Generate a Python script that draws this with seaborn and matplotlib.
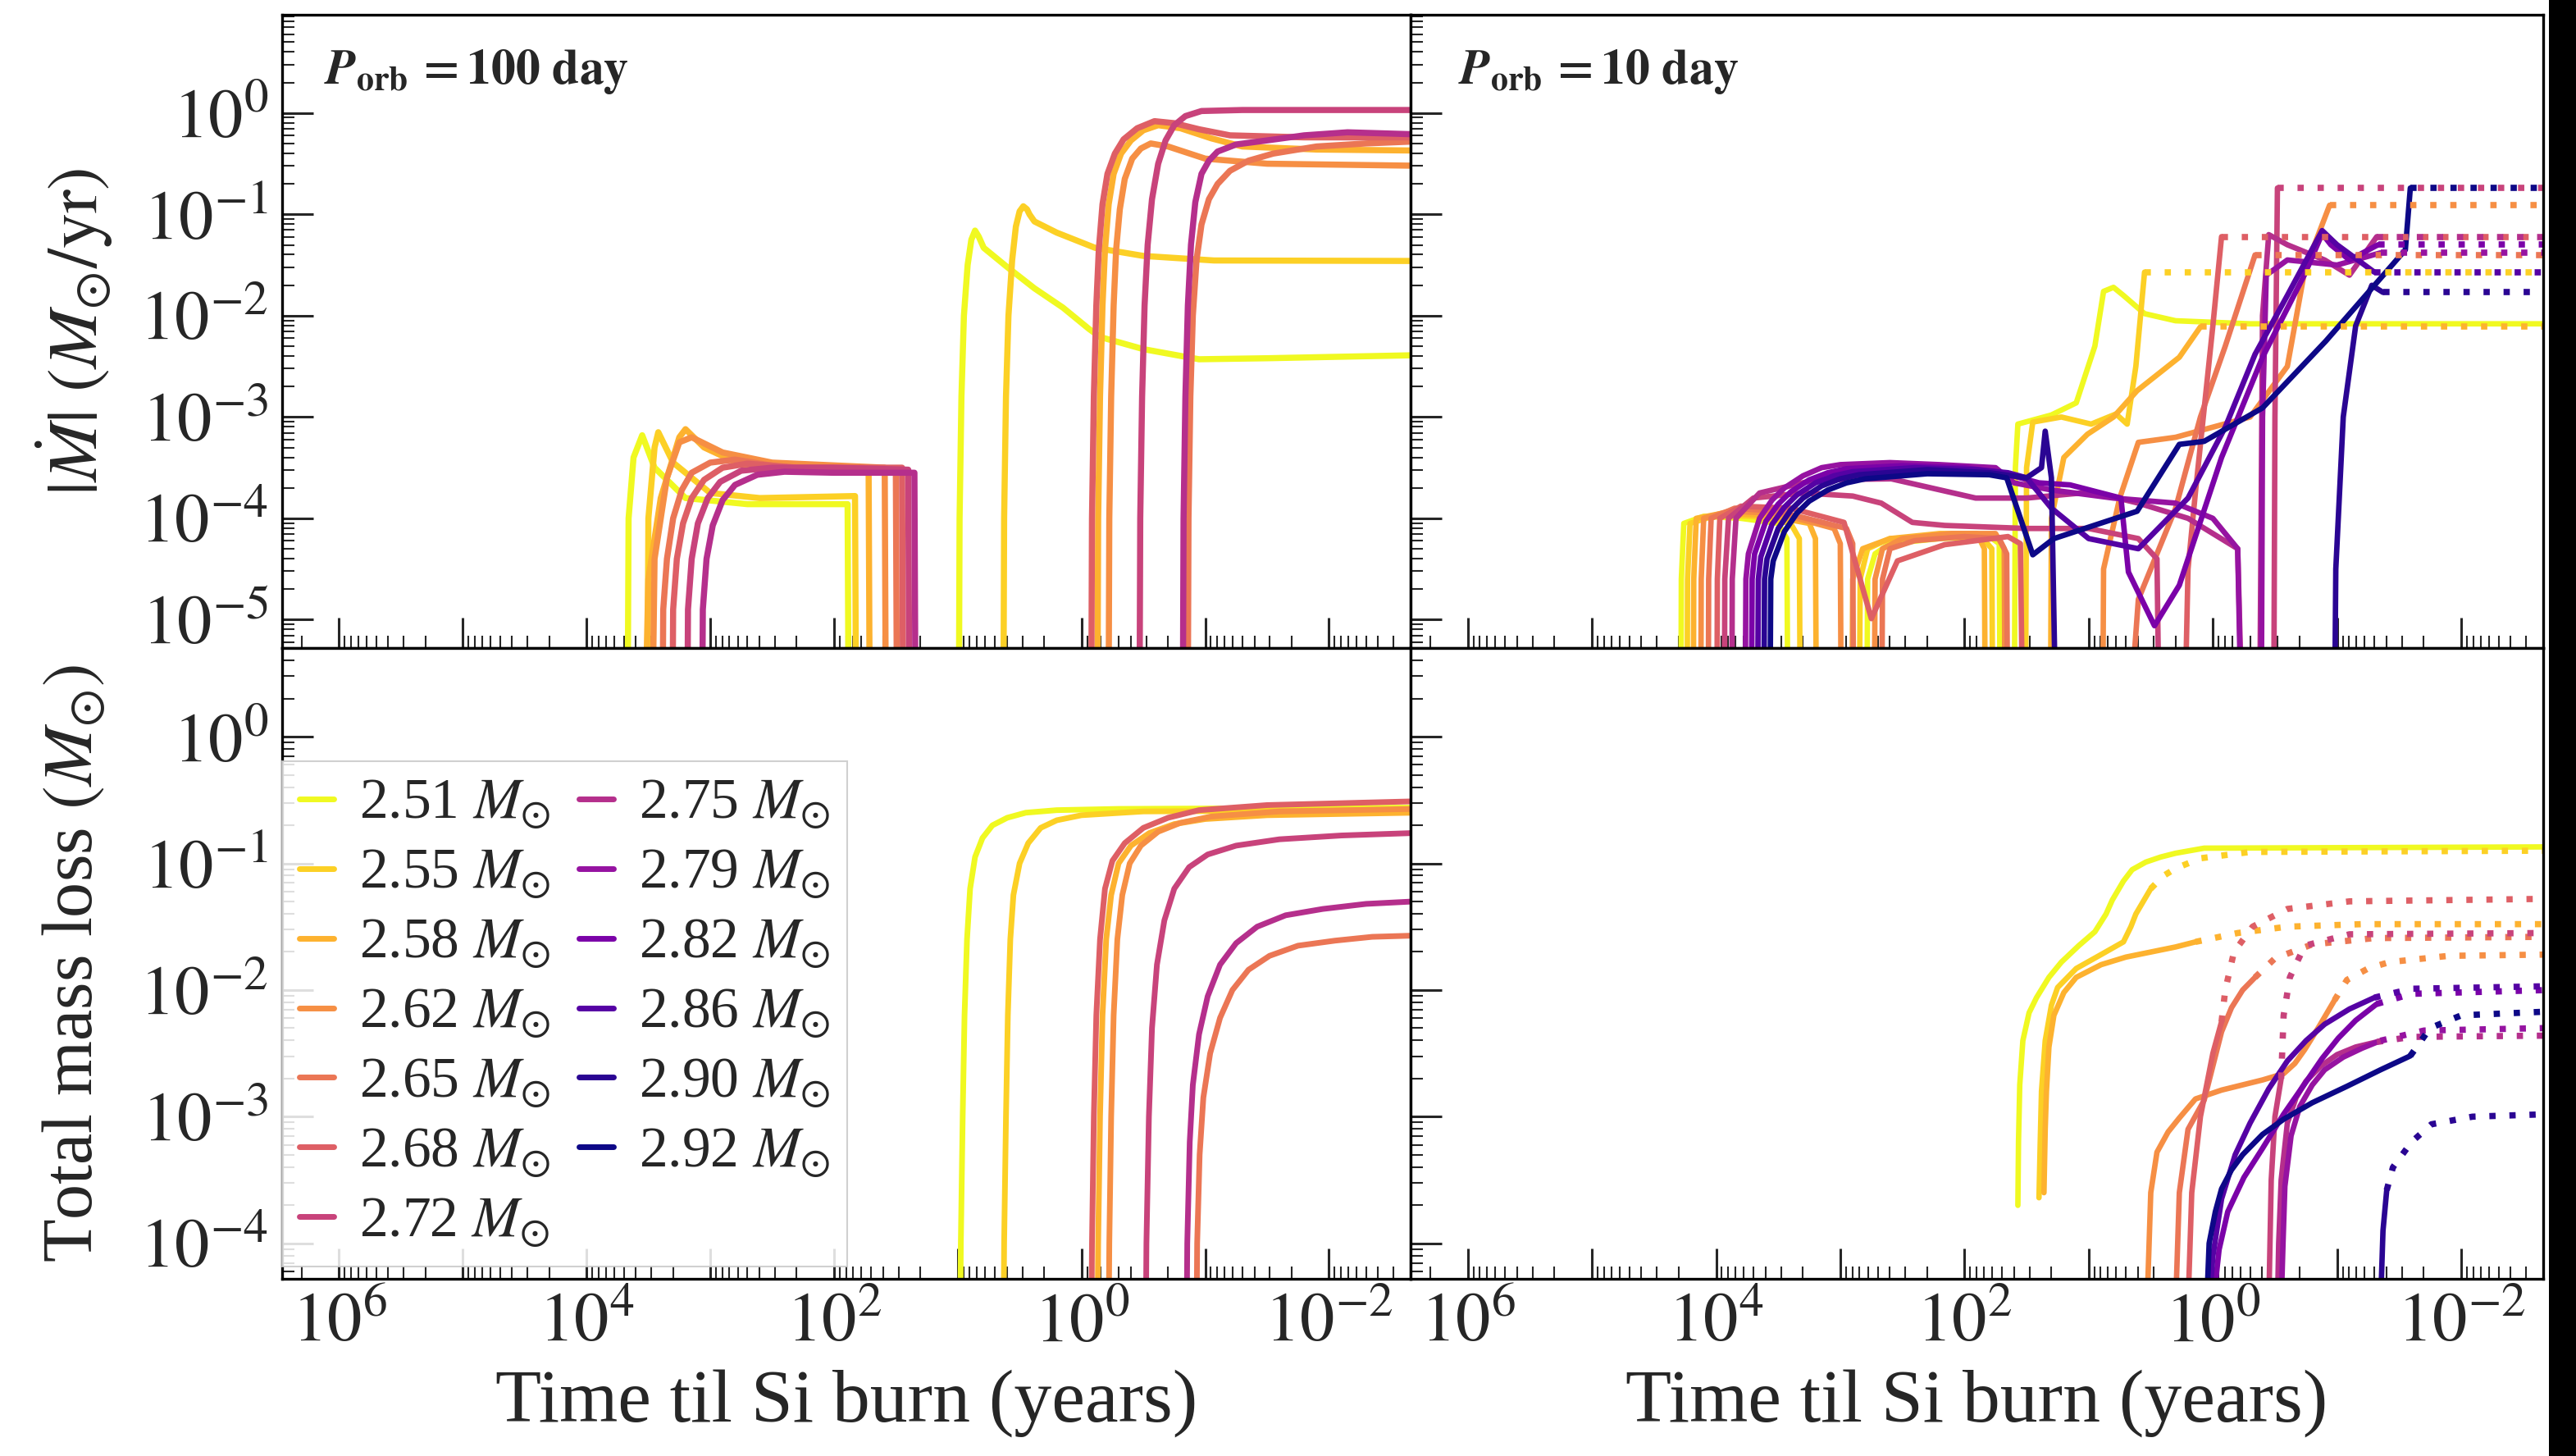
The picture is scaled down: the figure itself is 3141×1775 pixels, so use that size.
import numpy as np
import matplotlib
matplotlib.use("Agg")
import matplotlib.pyplot as plt
import seaborn as sns
from matplotlib.lines import Line2D
from matplotlib.ticker import LogLocator, FuncFormatter, NullFormatter
from matplotlib.patches import Rectangle

# ---------------- data (log10 of time til Si burn [yr], log10 of value) ----------------
masses = [2.51, 2.55, 2.58, 2.62, 2.65, 2.68, 2.72, 2.75, 2.79, 2.82, 2.86, 2.90, 2.92]
mass_labels = ["2.51", "2.55", "2.58", "2.62", "2.65", "2.68", "2.72",
               "2.75", "2.79", "2.82", "2.86", "2.90", "2.92"]

# P_orb = 100 day, |Mdot| (Msun/yr)
p100_mdot_251 = [(3.68,-9),(3.66,-4.0),(3.62,-3.4),(3.55,-3.18),(3.45,-3.5),(3.2,-3.8),(2.7,-3.86),(1.89,-3.86),(1.87,-9),
                 (1.0,-9),(0.985,-4.0),(0.97,-2.8),(0.95,-2.0),(0.92,-1.5),(0.89,-1.25),(0.86,-1.16),(0.83,-1.22),(0.79,-1.33),
                 (0.6,-1.52),(0.38,-1.73),(0.15,-1.92),(-0.06,-2.13),(-0.15,-2.21),(-0.5,-2.33),(-0.95,-2.43),(-1.5,-2.42),(-2.7,-2.39)]
p100_mdot_255 = [(3.52,-9),(3.5,-4.0),(3.45,-3.3),(3.42,-3.15),(3.3,-3.45),(3.0,-3.75),(2.6,-3.8),(1.83,-3.78),(1.81,-9),
                 (0.64,-9),(0.625,-4.0),(0.61,-2.8),(0.59,-2.0),(0.56,-1.45),(0.53,-1.12),(0.5,-0.97),(0.47,-0.92),(0.44,-0.95),
                 (0.42,-1.0),(0.38,-1.07),(0.2,-1.18),(-0.11,-1.33),(-0.5,-1.41),(-1.07,-1.455),(-2.7,-1.46)]
p100_mdot_258 = [(3.58,-9),(3.5,-4.6),(3.4,-3.8),(3.25,-3.2),(3.2,-3.12),(3.05,-3.3),(2.7,-3.5),(1.72,-3.55),(1.70,-9),
                 (-0.12,-9),(-0.135,-4.0),(-0.15,-2.8),(-0.17,-1.9),(-0.19,-1.35),(-0.22,-0.9),(-0.26,-0.6),(-0.32,-0.4),
                 (-0.4,-0.27),(-0.5,-0.17),(-0.62,-0.12),(-0.8,-0.15),(-1.05,-0.25),(-1.3,-0.33),(-1.9,-0.36),(-2.7,-0.37)]
p100_mdot_262 = [(3.50,-9),(3.45,-4.4),(3.35,-3.6),(3.25,-3.25),(3.15,-3.2),(2.9,-3.35),(2.5,-3.45),(1.59,-3.5),(1.57,-9),
                 (-0.21,-9),(-0.225,-4.0),(-0.24,-2.8),(-0.26,-1.9),(-0.28,-1.35),(-0.31,-0.95),(-0.35,-0.65),(-0.41,-0.45),
                 (-0.48,-0.35),(-0.56,-0.3),(-0.7,-0.33),(-1.0,-0.45),(-1.5,-0.5),(-2.7,-0.52)]
p100_mdot_265 = [(3.40,-9),(3.38,-4.9),(3.35,-4.4),(3.3,-4.0),(3.23,-3.72),(3.15,-3.55),(3.0,-3.45),(2.8,-3.42),(2.4,-3.5),
                 (1.50,-3.55),(1.48,-9),
                 (-0.85,-9),(-0.865,-4.0),(-0.88,-2.8),(-0.9,-2.0),(-0.93,-1.45),(-0.97,-1.1),(-1.03,-0.85),(-1.1,-0.7),
                 (-1.2,-0.57),(-1.35,-0.47),(-1.55,-0.4),(-1.9,-0.33),(-2.3,-0.3),(-2.7,-0.28)]
p100_mdot_268 = [(3.32,-9),(3.3,-4.9),(3.27,-4.4),(3.22,-4.05),(3.15,-3.8),(3.05,-3.62),(2.9,-3.5),(2.7,-3.46),(2.3,-3.5),
                 (1.45,-3.5),(1.43,-9),
                 (-0.07,-9),(-0.085,-4.0),(-0.1,-2.8),(-0.12,-1.9),(-0.14,-1.35),(-0.17,-0.9),(-0.21,-0.6),(-0.27,-0.4),
                 (-0.34,-0.26),(-0.45,-0.15),(-0.59,-0.08),(-0.75,-0.1),(-0.95,-0.16),(-1.2,-0.22),(-1.8,-0.24),(-2.7,-0.24)]
p100_mdot_272 = [(3.20,-9),(3.18,-4.9),(3.15,-4.4),(3.1,-4.05),(3.02,-3.8),(2.92,-3.64),(2.75,-3.53),(2.5,-3.5),(2.0,-3.5),
                 (1.40,-3.52),(1.38,-9),
                 (-0.46,-9),(-0.475,-4.0),(-0.49,-2.8),(-0.51,-1.9),(-0.535,-1.3),(-0.57,-0.85),(-0.62,-0.5),(-0.68,-0.27),
                 (-0.75,-0.12),(-0.84,-0.03),(-0.97,0.02),(-1.3,0.03),(-2.7,0.03)]
p100_mdot_275 = [(3.08,-9),(3.06,-4.9),(3.03,-4.4),(2.98,-4.07),(2.9,-3.82),(2.8,-3.67),(2.62,-3.57),(2.4,-3.54),(2.0,-3.55),
                 (1.35,-3.55),(1.33,-9),
                 (-0.81,-9),(-0.825,-4.0),(-0.84,-2.8),(-0.86,-1.9),(-0.885,-1.3),(-0.92,-0.88),(-0.97,-0.6),(-1.03,-0.47),
                 (-1.1,-0.38),(-1.25,-0.31),(-1.5,-0.27),(-1.8,-0.22),(-2.15,-0.19),(-2.7,-0.21)]

# P_orb = 100 day, total mass loss (Msun)
p100_loss_251 = [(0.99,-6),(0.975,-4.0),(0.96,-3.0),(0.945,-2.2),(0.925,-1.6),(0.9,-1.2),(0.86,-0.95),(0.8,-0.8),
                 (0.72,-0.7),(0.6,-0.64),(0.45,-0.6),(0.2,-0.58),(-0.3,-0.57),(-2.7,-0.56)]
p100_loss_255 = [(0.64,-6),(0.625,-4.0),(0.61,-3.0),(0.595,-2.2),(0.575,-1.6),(0.55,-1.25),(0.5,-1.0),(0.43,-0.84),
                 (0.33,-0.72),(0.2,-0.66),(0.0,-0.62),(-0.5,-0.59),(-2.7,-0.58)]
p100_loss_258 = [(-0.12,-6),(-0.135,-4.0),(-0.15,-3.0),(-0.17,-2.2),(-0.2,-1.6),(-0.24,-1.25),(-0.3,-1.0),(-0.4,-0.86),
                 (-0.55,-0.76),(-0.75,-0.69),(-1.0,-0.65),(-1.5,-0.62),(-2.7,-0.60)]
p100_loss_262 = [(-0.21,-6),(-0.225,-4.0),(-0.24,-3.0),(-0.26,-2.2),(-0.29,-1.6),(-0.33,-1.25),(-0.39,-1.0),(-0.48,-0.86),
                 (-0.62,-0.75),(-0.8,-0.68),(-1.05,-0.63),(-1.6,-0.59),(-2.7,-0.57)]
p100_loss_265 = [(-0.92,-6),(-0.935,-4.0),(-0.955,-3.3),(-0.985,-2.85),(-1.04,-2.5),(-1.12,-2.22),(-1.22,-2.0),(-1.35,-1.84),
                 (-1.52,-1.73),(-1.75,-1.65),(-2.05,-1.61),(-2.35,-1.58),(-2.7,-1.57)]
p100_loss_268 = [(-0.07,-6),(-0.085,-4.0),(-0.1,-3.0),(-0.12,-2.2),(-0.15,-1.6),(-0.19,-1.2),(-0.25,-0.98),(-0.35,-0.84),
                 (-0.5,-0.72),(-0.7,-0.64),(-0.95,-0.58),(-1.5,-0.54),(-2.7,-0.51)]
p100_loss_272 = [(-0.51,-6),(-0.525,-4.0),(-0.545,-3.0),(-0.57,-2.3),(-0.61,-1.8),(-0.67,-1.45),(-0.75,-1.2),(-0.87,-1.03),
                 (-1.02,-0.93),(-1.25,-0.86),(-1.6,-0.81),(-2.1,-0.78),(-2.7,-0.76)]
p100_loss_275 = [(-0.84,-6),(-0.855,-4.0),(-0.875,-3.2),(-0.9,-2.75),(-0.95,-2.35),(-1.02,-2.05),(-1.12,-1.8),(-1.25,-1.63),
                 (-1.42,-1.5),(-1.65,-1.41),(-1.95,-1.36),(-2.3,-1.32),(-2.7,-1.30)]

# P_orb = 10 day, |Mdot| (Msun/yr): solid part
p10_mdot_251 = [(4.29,-9),(4.28,-4.6),(4.26,-4.05),(4.1,-3.98),(3.8,-4.0),(3.5,-4.05),(3.43,-4.2),(3.41,-9),
                (2.80,-9),(2.78,-4.6),(2.72,-4.35),(2.6,-4.25),(2.2,-4.2),(1.8,-4.18),(1.72,-4.25),(1.70,-9),
                (1.61,-9),(1.59,-3.5),(1.57,-3.07),(1.3,-2.98),(1.1,-2.86),(0.95,-2.3),(0.88,-1.76),(0.8,-1.72),(0.72,-1.8),
                (0.55,-1.98),(0.3,-2.05),(-0.3,-2.08),(-2.7,-2.08)]
p10_mdot_255 = [(4.24,-9),(4.23,-4.6),(4.21,-4.05),(4.0,-3.97),(3.7,-3.98),(3.4,-4.05),(3.33,-4.2),(3.31,-9),
                (2.86,-9),(2.84,-4.6),(2.78,-4.3),(2.6,-4.2),(2.2,-4.18),(1.85,-4.2),(1.78,-4.3),(1.76,-9),
                (1.52,-9),(1.50,-3.5),(1.45,-3.05),(1.22,-3.0),(0.98,-3.07),(0.78,-2.97),(0.69,-3.07),(0.62,-2.5),(0.55,-1.57)]
p10_mdot_258 = [(4.19,-9),(4.18,-4.6),(4.16,-4.0),(3.95,-3.95),(3.6,-3.97),(3.25,-4.05),(3.2,-4.2),(3.18,-9),
                (2.92,-9),(2.9,-4.6),(2.82,-4.3),(2.6,-4.2),(2.2,-4.15),(1.9,-4.15),(1.84,-4.3),(1.82,-9),
                (1.32,-9),(1.3,-4.0),(1.2,-3.4),(1.01,-3.17),(0.8,-3.0),(0.61,-2.74),(0.27,-2.41),(0.1,-2.11)]
p10_mdot_262 = [(4.13,-9),(4.12,-4.6),(4.1,-4.0),(3.9,-3.93),(3.5,-3.95),(3.05,-4.1),(3.0,-4.25),(2.98,-9),
                (2.74,-9),(2.72,-4.6),(2.66,-4.3),(2.5,-4.2),(2.1,-4.15),(1.75,-4.15),(1.68,-4.3),(1.66,-9),
                (0.9,-9),(0.88,-4.5),(0.75,-3.8),(0.6,-3.25),(0.3,-3.2),(0.0,-3.1),(-0.3,-3.0),(-0.6,-2.5),(-0.74,-1.55),(-0.94,-0.91)]
p10_mdot_265 = [(4.07,-9),(4.06,-4.6),(4.04,-4.0),(3.85,-3.9),(3.5,-3.93),(2.95,-4.1),(2.9,-4.25),(2.88,-9),
                (2.68,-9),(2.66,-4.6),(2.6,-4.3),(2.4,-4.22),(2.0,-4.18),(1.72,-4.2),(1.66,-4.35),(1.64,-9),
                (0.85,-9),(0.6,-4.8),(0.3,-3.9),(0.1,-3.0),(-0.1,-2.3),(-0.34,-1.4)]
p10_mdot_268 = [(4.0,-9),(3.99,-4.6),(3.97,-4.0),(3.8,-3.88),(3.4,-3.9),(2.97,-4.04),(2.75,-4.99),(2.54,-4.42),(2.16,-4.26),
                (1.65,-4.18),(1.55,-4.25),(1.5,-9),
                (0.28,-9),(0.2,-4.5),(0.14,-3.74),(0.0,-2.1),(-0.07,-1.22)]
p10_mdot_272 = [(3.94,-9),(3.93,-4.6),(3.9,-4.0),(3.7,-3.8),(3.3,-3.75),(2.9,-3.78),(2.67,-3.85),(2.42,-4.04),(2.16,-4.07),
                (1.5,-4.1),(1.0,-4.1),(0.6,-4.2),(0.45,-4.4),(0.4,-9),
                (-0.48,-9),(-0.50,-3.0),(-0.52,-0.74)]
p10_mdot_275 = [(3.88,-9),(3.87,-4.6),(3.84,-4.0),(3.65,-3.75),(3.2,-3.62),(2.59,-3.61),(1.91,-3.8),(1.5,-3.8),(0.97,-3.74),
                (0.6,-3.85),(0.2,-4.0),(-0.2,-4.3),(-0.3,-9),
                (-0.36,-9),(-0.4,-2.0),(-0.45,-1.2),(-0.6,-1.3),(-0.9,-1.45),(-1.1,-1.6),(-1.32,-1.22)]
p10_mdot_279 = [(3.78,-9),(3.76,-4.6),(3.74,-4.35),(3.65,-4.0),(3.55,-3.82),(3.45,-3.7),(3.3,-3.58),(3.15,-3.5),(3.0,-3.47),
                (2.6,-3.45),(2.2,-3.47),(1.75,-3.5),(1.6,-3.65),(1.3,-3.72),(0.8,-3.8),(0.3,-3.85),(0.0,-4.0),(-0.2,-4.3),(-0.28,-9),
                (-0.38,-9),(-0.40,-3.0),(-0.43,-1.6),(-0.6,-1.45),(-1.0,-1.5),(-1.35,-1.38)]
p10_mdot_282 = [(3.73,-9),(3.71,-4.6),(3.69,-4.35),(3.6,-4.03),(3.5,-3.86),(3.4,-3.74),(3.25,-3.62),(3.1,-3.55),(2.95,-3.51),
                (2.5,-3.48),(2.0,-3.5),(1.7,-3.55),
                (1.4,-3.65),(1.15,-3.67),(0.74,-3.8),(0.68,-4.53),(0.47,-5.06),(0.27,-4.66),(-0.07,-3.4),(-0.4,-2.41),
                (-0.74,-1.59),(-0.88,-1.19),(-0.95,-1.3),(-1.1,-1.45),(-1.33,-1.3)]
p10_mdot_286 = [(3.68,-9),(3.66,-4.6),(3.64,-4.38),(3.55,-4.06),(3.45,-3.89),(3.35,-3.77),(3.2,-3.65),(3.05,-3.58),(2.9,-3.54),
                (2.4,-3.5),(1.9,-3.52),(1.65,-3.55),
                (1.5,-3.6),(1.3,-3.9),(1.0,-4.2),(0.6,-4.3),(0.2,-3.8),(-0.1,-3.1),(-0.34,-2.38),(-0.6,-1.8),(-0.88,-1.16),
                (-1.0,-1.3),(-1.3,-1.57)]
p10_mdot_290 = [(3.63,-9),(3.61,-4.6),(3.59,-4.4),(3.5,-4.1),(3.4,-3.92),(3.3,-3.8),(3.15,-3.68),(3.0,-3.61),(2.85,-3.57),
                (2.3,-3.52),(1.8,-3.55),(1.5,-3.6),
                (1.38,-3.5),(1.35,-3.14),(1.3,-3.6),(1.22,-9),
                (-0.96,-9),(-0.99,-4.5),(-1.05,-3.0),(-1.15,-2.1),(-1.28,-1.7),(-1.37,-1.77)]
p10_mdot_292 = [(3.58,-9),(3.56,-4.6),(3.54,-4.42),(3.45,-4.13),(3.35,-3.95),(3.25,-3.83),(3.1,-3.72),(2.95,-3.65),(2.8,-3.61),
                (2.3,-3.56),(1.8,-3.57),(1.66,-3.6),
                (1.45,-4.36),(1.28,-4.2),(0.61,-3.93),(0.27,-3.27),(0.07,-3.24),(-0.4,-2.91),(-0.91,-2.25),(-1.55,-1.35),(-1.59,-0.74)]
# dotted continuation of |Mdot|: start log t and constant log level (None = no dotted part)
p10_mdot_dot_start = [None, 0.55, 0.1, -0.94, -0.34, -0.07, -0.52, -1.32, -1.35, -1.33, -1.3, -1.37, -1.59]
p10_mdot_dot_level = [None, -1.57, -2.11, -0.91, -1.4, -1.22, -0.74, -1.22, -1.38, -1.3, -1.57, -1.77, -0.74]

# P_orb = 10 day, total mass loss (Msun): solid part and dotted part
p10_loss_251 = [(1.57,-3.7),(1.565,-3.2),(1.555,-2.75),(1.53,-2.4),(1.48,-2.18),(1.42,-2.06),(1.32,-1.9),(1.22,-1.78),
                (1.08,-1.65),(0.95,-1.54),(0.86,-1.4),(0.81,-1.29),(0.72,-1.14),(0.65,-1.05),(0.54,-0.99),(0.42,-0.95),
                (0.3,-0.92),(0.07,-0.88),(-2.7,-0.87)]
p10_loss_255 = [(1.40,-3.64),(1.39,-3.2),(1.38,-2.8),(1.35,-2.4),(1.3,-2.12),(1.25,-1.98),(1.1,-1.83),(0.9,-1.72),
                (0.72,-1.62),(0.66,-1.5),(0.62,-1.4),(0.56,-1.3),(0.5,-1.2)]
p10_loss_258 = [(1.36,-3.6),(1.35,-3.1),(1.34,-2.8),(1.32,-2.45),(1.28,-2.2),(1.2,-2.02),(1.1,-1.9),(0.9,-1.8),
                (0.7,-1.74),(0.5,-1.7),(0.3,-1.66),(0.14,-1.62)]
p10_loss_262 = [(0.53,-4.5),(0.5,-3.6),(0.45,-3.28),(0.36,-3.12),(0.27,-3.01),(0.14,-2.86),(-0.07,-2.79),(-0.4,-2.71),
                (-0.57,-2.66),(-0.66,-2.58),(-0.74,-2.47),(-0.86,-2.28),(-0.98,-2.08)]
p10_loss_265 = [(0.3,-4.5),(0.27,-3.6),(0.2,-3.1),(0.07,-2.87),(0.0,-2.6),(-0.07,-2.33),(-0.15,-2.14),(-0.24,-2.0),(-0.34,-1.9)]
p10_loss_268 = [(0.2,-4.5),(0.17,-3.6),(0.1,-3.0),(0.0,-2.5),(-0.07,-2.25)]
p10_loss_272 = [(-0.45,-4.5),(-0.47,-3.5),(-0.5,-3.0),(-0.55,-2.7)]
p10_loss_275 = [(-0.52,-4.5),(-0.53,-4.0),(-0.55,-3.5),(-0.6,-3.05),(-0.67,-2.85),(-0.75,-2.72),(-0.87,-2.6),(-1.0,-2.51),
                (-1.15,-2.45),(-1.32,-2.41)]
p10_loss_279 = [(-0.55,-4.5),(-0.565,-4.0),(-0.58,-3.55),(-0.63,-3.15),(-0.7,-2.92),(-0.8,-2.75),(-0.9,-2.63),(-1.05,-2.53),
                (-1.2,-2.46),(-1.35,-2.4)]
p10_loss_282 = [(0.0,-4.5),(-0.05,-4.05),(-0.12,-3.75),(-0.25,-3.48),(-0.4,-3.25),(-0.57,-2.98),(-0.74,-2.74),(-0.88,-2.54),
                (-1.01,-2.38),(-1.15,-2.24),(-1.32,-2.11)]
p10_loss_286 = [(0.03,-4.5),(0.0,-4.1),(-0.07,-3.65),(-0.18,-3.3),(-0.3,-3.05),(-0.45,-2.78),(-0.6,-2.56),(-0.75,-2.4),
                (-0.9,-2.27),(-1.1,-2.15),(-1.3,-2.06)]
p10_loss_290 = [(-1.35,-4.5),(-1.37,-3.9),(-1.4,-3.58)]
p10_loss_292 = [(0.05,-4.5),(0.03,-4.0),(-0.02,-3.75),(-0.07,-3.57),(-0.15,-3.42),(-0.24,-3.3),(-0.4,-3.14),(-0.57,-3.02),
                (-0.8,-2.89),(-1.08,-2.76),(-1.35,-2.63),(-1.59,-2.52)]

p10_lossdot_251 = []
p10_lossdot_255 = [(0.5,-1.2),(0.4,-1.1),(0.3,-1.04),(0.1,-0.96),(-0.3,-0.91),(-2.7,-0.9)]
p10_lossdot_258 = [(0.14,-1.62),(-0.2,-1.55),(-0.6,-1.5),(-1.2,-1.48),(-2.7,-1.48)]
p10_lossdot_262 = [(-0.98,-2.08),(-1.08,-1.92),(-1.25,-1.83),(-1.42,-1.78),(-1.9,-1.73),(-2.7,-1.72)]
p10_lossdot_265 = [(-0.34,-1.9),(-0.5,-1.75),(-0.8,-1.64),(-1.3,-1.59),(-2.7,-1.58)]
p10_lossdot_268 = [(-0.07,-2.25),(-0.1,-2.0),(-0.17,-1.7),(-0.32,-1.5),(-0.6,-1.36),(-1.1,-1.3),(-2.7,-1.28)]
p10_lossdot_272 = [(-0.55,-2.7),(-0.57,-2.2),(-0.62,-1.9),(-0.74,-1.65),(-1.1,-1.56),(-2.7,-1.55)]
p10_lossdot_275 = [(-1.32,-2.41),(-1.6,-2.37),(-2.7,-2.36)]
p10_lossdot_279 = [(-1.35,-2.4),(-1.7,-2.32),(-2.7,-2.3)]
p10_lossdot_282 = [(-1.32,-2.11),(-1.6,-2.03),(-2.7,-2.0)]
p10_lossdot_286 = [(-1.3,-2.06),(-1.6,-1.99),(-2.7,-1.97)]
p10_lossdot_290 = [(-1.4,-3.58),(-1.45,-3.4),(-1.6,-3.2),(-1.76,-3.06),(-2.09,-3.0),(-2.7,-2.98)]
p10_lossdot_292 = [(-1.59,-2.52),(-1.75,-2.3),(-2.0,-2.2),(-2.7,-2.17)]

p100_mdot = [p100_mdot_251, p100_mdot_255, p100_mdot_258, p100_mdot_262, p100_mdot_265, p100_mdot_268, p100_mdot_272, p100_mdot_275]
p100_loss = [p100_loss_251, p100_loss_255, p100_loss_258, p100_loss_262, p100_loss_265, p100_loss_268, p100_loss_272, p100_loss_275]
p10_mdot = [p10_mdot_251, p10_mdot_255, p10_mdot_258, p10_mdot_262, p10_mdot_265, p10_mdot_268, p10_mdot_272,
            p10_mdot_275, p10_mdot_279, p10_mdot_282, p10_mdot_286, p10_mdot_290, p10_mdot_292]
p10_loss = [p10_loss_251, p10_loss_255, p10_loss_258, p10_loss_262, p10_loss_265, p10_loss_268, p10_loss_272,
            p10_loss_275, p10_loss_279, p10_loss_282, p10_loss_286, p10_loss_290, p10_loss_292]
p10_lossdot = [p10_lossdot_251, p10_lossdot_255, p10_lossdot_258, p10_lossdot_262, p10_lossdot_265, p10_lossdot_268,
               p10_lossdot_272, p10_lossdot_275, p10_lossdot_279, p10_lossdot_282, p10_lossdot_286, p10_lossdot_290,
               p10_lossdot_292]

# ---------------- style ----------------
sns.set_theme(style="ticks")
plt.rcParams["font.family"] = ["Liberation Serif", "DejaVu Serif"]
plt.rcParams["mathtext.fontset"] = "stix"
plt.rcParams["axes.linewidth"] = 2.4
plt.rcParams["axes.edgecolor"] = "black"

cmap = plt.get_cmap("plasma")
colors = [cmap((2.92 - m) / (2.92 - 2.51)) for m in masses]

W, H = 3141, 1775
fig = plt.figure(figsize=(W / 100, H / 100), dpi=100)
fig.patch.set_facecolor("white")

def frac(x0, y0, x1, y1):
    return [x0 / W, 1 - y1 / H, (x1 - x0) / W, (y1 - y0) / H]

ax_tl = fig.add_axes(frac(344, 18, 1720, 790))
ax_tr = fig.add_axes(frac(1720, 18, 3101, 790))
ax_bl = fig.add_axes(frac(344, 790, 1720, 1559))
ax_br = fig.add_axes(frac(1720, 790, 3101, 1559))
axes = [ax_tl, ax_tr, ax_bl, ax_br]

XLIM = (10**6.46, 10**-2.66)
for ax in axes:
    ax.set_xscale("log")
    ax.set_yscale("log")

def to_lin(pts):
    a = np.array(pts, dtype=float)
    return 10.0 ** a[:, 0], 10.0 ** a[:, 1]

def draw(ax, pts, color, lw, ls="-"):
    if len(pts) < 2:
        return
    x, y = to_lin(pts)
    sns.lineplot(x=x, y=y, ax=ax, color=color, lw=lw, sort=False, estimator=None,
                 legend=False, linestyle=ls)
    ax.lines[-1].set_solid_joinstyle("round")
    ax.lines[-1].set_solid_capstyle("round")

DOT = (0, (1.0, 2.2))
LW = 4.8

# P = 100 day
for i, pts in enumerate(p100_mdot):
    draw(ax_tl, pts, colors[i], 5.4)
for i, pts in enumerate(p100_loss):
    draw(ax_bl, pts, colors[i], 5.0)

# P = 10 day
for i, pts in enumerate(p10_mdot):
    draw(ax_tr, pts, colors[i], LW)
for i in range(len(masses)):
    if p10_mdot_dot_start[i] is not None:
        draw(ax_tr, [(p10_mdot_dot_start[i], p10_mdot_dot_level[i]), (-2.7, p10_mdot_dot_level[i])],
             colors[i], 5.5, DOT)
for i, pts in enumerate(p10_loss):
    draw(ax_br, pts, colors[i], LW)
for i, pts in enumerate(p10_lossdot):
    draw(ax_br, pts, colors[i], 5.5, DOT)

# ---------------- axes formatting ----------------
def xfmt(v, pos):
    e = int(round(np.log10(v)))
    if e % 2 == 0:
        return r"$10^{%d}$" % e
    return ""

def yfmt(v, pos):
    e = int(round(np.log10(v)))
    return r"$10^{%d}$" % e

for ax in axes:
    ax.set_xlim(*XLIM)
    ax.xaxis.set_major_locator(LogLocator(base=10, numticks=30))
    ax.xaxis.set_minor_locator(LogLocator(base=10, subs=np.arange(2, 10), numticks=30))
    ax.xaxis.set_major_formatter(FuncFormatter(xfmt))
    ax.xaxis.set_minor_formatter(NullFormatter())
    ax.yaxis.set_major_locator(LogLocator(base=10, numticks=30))
    ax.yaxis.set_minor_locator(LogLocator(base=10, subs=np.arange(2, 10), numticks=30))
    ax.yaxis.set_major_formatter(FuncFormatter(yfmt))
    ax.yaxis.set_minor_formatter(NullFormatter())
    ax.tick_params(which="major", direction="in", length=27, width=2.2, labelsize=61, pad=12)
    ax.tick_params(which="minor", direction="in", length=11, width=1.5)
    for s in ax.spines.values():
        s.set_linewidth(2.4)
        s.set_color("black")
    ax.set_facecolor("white")

for ax in (ax_tl, ax_tr):
    ax.set_ylim(10**-5.28, 10**0.97)
    ax.tick_params(labelbottom=False)
for ax in (ax_bl, ax_br):
    ax.set_ylim(10**-4.28, 10**0.70)
for ax in (ax_tr, ax_br):
    ax.tick_params(labelleft=False)

ax_tl.set_ylabel(r"$|\dot{M}|\ (M_{\odot}/{\rm yr})$", fontsize=62, labelpad=22)
ax_bl.set_ylabel(r"Total mass loss $(M_{\odot})$", fontsize=62, labelpad=28)
for ax in (ax_bl, ax_br):
    ax.set_xlabel("Time til Si burn (years)", fontsize=66, labelpad=12)

ax_tl.text(0.037, 0.91, r"$\mathbfit{P}_{\mathbf{orb}}\mathbf{\,=100\ day}$", transform=ax_tl.transAxes,
           fontsize=43, va="center", ha="left")
ax_tr.text(0.042, 0.91, r"$\mathbfit{P}_{\mathbf{orb}}\mathbf{\,=10\ day}$", transform=ax_tr.transAxes,
           fontsize=43, va="center", ha="left")

handles = [Line2D([0], [0], color=colors[i], lw=5) for i in range(len(masses))]
labels = [r"%s $M_{\odot}$" % s for s in mass_labels]
leg = ax_bl.legend(handles, labels, ncol=2, loc="upper left", bbox_to_anchor=(0.0, 0.82),
                   borderaxespad=0.0, fontsize=50, handlelength=0.6, handletextpad=0.45,
                   columnspacing=0.5, labelspacing=0.3, borderpad=0.3, frameon=True,
                   fancybox=False, framealpha=0.85, edgecolor="#c8c8c8")
leg.get_frame().set_linewidth(1.5)

# dark strip at the right edge of the original image
fig.patches.append(Rectangle((3108 / W, 0), 1 - 3108 / W, 1, transform=fig.transFigure,
                             facecolor="black", edgecolor="none", zorder=10))

fig.savefig("out.png", dpi=100, facecolor="white")
